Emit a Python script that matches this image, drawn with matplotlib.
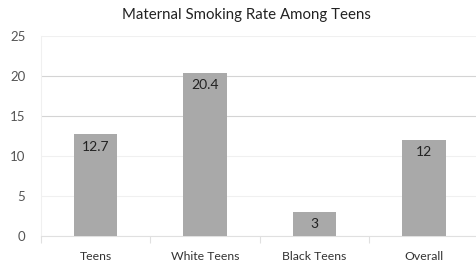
import matplotlib
matplotlib.use("Agg")
import matplotlib.pyplot as plt

categories = ["Teens", "White Teens", "Black Teens", "Overall"]
rates = [12.7, 20.4, 3, 12]
value_labels = ["12.7", "20.4", "3", "12"]
yticks = [0, 5, 10, 15, 20, 25]

plt.rcParams["font.family"] = ["Lato", "DejaVu Sans"]

fig = plt.figure(figsize=(4.76, 2.65), dpi=100)
ax = fig.add_axes([40.75 / 476, 1 - 236 / 265, (476 - 40.75) / 476, 200 / 265])

x = range(len(categories))
bars = ax.bar(x, rates, width=0.4, color="#a9a9a9", zorder=3)
for b, lab in zip(bars, value_labels):
    ax.annotate(lab, (b.get_x() + b.get_width() / 2, b.get_height()),
                xytext=(0, -9), textcoords="offset points",
                ha="center", va="center", fontsize=10, color="#222222", zorder=4)

ax.set_xlim(-0.5, 3.475)
ax.set_ylim(0, 25)
ax.set_yticks(yticks)
ax.set_yticklabels([str(t) for t in yticks], fontsize=9.5, color="#555555")
ax.set_xticks(list(x))
ax.set_xticklabels(categories, fontsize=8.8, color="#333333")
ax.set_xticks([-0.5, 0.5, 1.5, 2.5], minor=True)
ax.tick_params(axis="x", which="major", length=0, pad=11)
ax.tick_params(axis="x", which="minor", length=5, color="#e0e0e0", width=0.8)
ax.tick_params(axis="y", length=0, pad=11)

ax.grid(axis="y", zorder=0, linewidth=0.8)
for t, gl in zip(yticks, ax.yaxis.get_gridlines()):
    gl.set_color("#d4d4d4" if t in (15, 20) else "#f0f0f0")

for side in ["top", "right"]:
    ax.spines[side].set_visible(False)
ax.spines["left"].set_color("#f0f0f0")
ax.spines["bottom"].set_color("#e0e0e0")
ax.spines["left"].set_linewidth(0.8)
ax.spines["bottom"].set_linewidth(0.8)

fig.text(246 / 476, 1 - 15 / 265, "Maternal Smoking Rate Among Teens",
         ha="center", va="center", fontsize=10.8, color="#222222")

fig.savefig("out.png", dpi=100)
